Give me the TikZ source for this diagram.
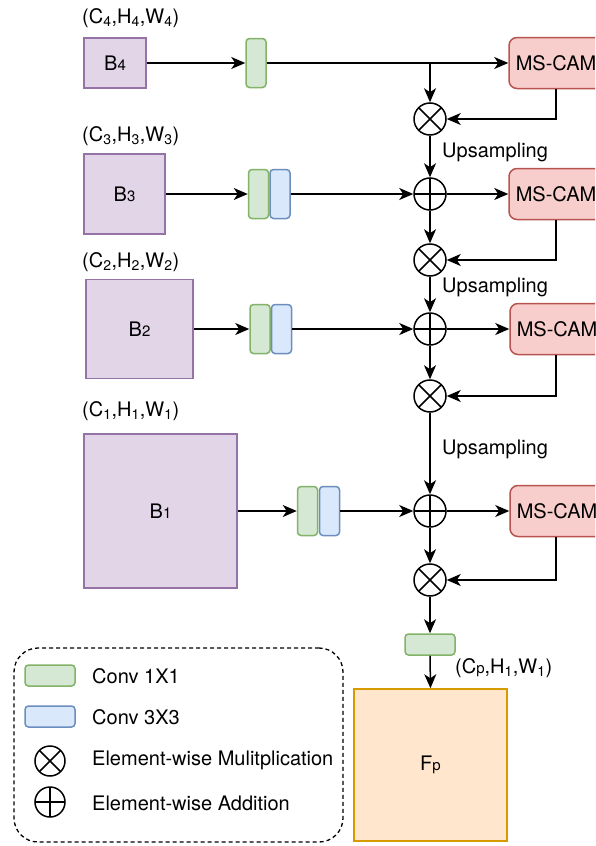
\documentclass[tikz,border=0pt]{standalone}
\usepackage{fontspec}
\setmainfont{TeX Gyre Heros}
\usetikzlibrary{arrows.meta}

\definecolor{purpleF}{HTML}{E1D5E7}\definecolor{purpleS}{HTML}{9673A6}
\definecolor{greenF}{HTML}{D5E8D4}\definecolor{greenS}{HTML}{82B366}
\definecolor{blueF}{HTML}{DAE8FC}\definecolor{blueS}{HTML}{6C8EBF}
\definecolor{redF}{HTML}{F8CECC}\definecolor{redS}{HTML}{B85450}
\definecolor{orangeF}{HTML}{FFE6CC}\definecolor{orangeS}{HTML}{D79B00}

\newcommand{\smallidx}[1]{{\fontsize{15}{18}\selectfont #1}}

\tikzset{
  every node/.style={font=\fontsize{20}{24}\selectfont, inner sep=0pt},
  arr/.style={line width=1.5pt, -{Stealth[length=14pt,width=12pt,inset=4pt]}},
  ln/.style={line width=1.5pt},
  blk/.style={draw=purpleS, fill=purpleF, line width=1.5pt},
  convone/.style={draw=greenS, fill=greenF, line width=1.5pt, rounded corners=3.5pt,
                  minimum width=20pt, minimum height=49pt},
  convthree/.style={draw=blueS, fill=blueF, line width=1.5pt, rounded corners=3.5pt,
                  minimum width=20pt, minimum height=49pt},
  cam/.style={draw=redS, fill=redF, line width=1.5pt, rounded corners=8pt,
              minimum width=94pt, minimum height=51pt},
  mulop/.style={circle, draw, line width=1.5pt, minimum size=32pt,
    path picture={\draw[line width=1.5pt]
      (path picture bounding box.north west) -- (path picture bounding box.south east)
      (path picture bounding box.north east) -- (path picture bounding box.south west);}},
  addop/.style={circle, draw, line width=1.5pt, minimum size=32pt,
    path picture={\draw[line width=1.5pt]
      (path picture bounding box.north) -- (path picture bounding box.south)
      (path picture bounding box.west) -- (path picture bounding box.east);}},
  dimlabel/.style={anchor=west},
}

\begin{document}
\begin{tikzpicture}[x=1pt,y=-1pt]
\clip (0,0) rectangle (595,846);
\fill[white] (0,0) rectangle (595,846);

% ---- level 4 ----
\node[blk, minimum width=62pt, minimum height=50pt] (B4) at (115,63) {B\smallidx{4}};
\node[dimlabel] (L4) at (82,18) {(C\textsubscript{4},H\textsubscript{4},W\textsubscript{4})};
\node[convone] (g4) at (256,63) {};
\node[cam] (cam1) at (556,63) {MS-CAM};
\node[mulop] (mul1) at (430,119) {};
\node[anchor=west] (up1) at (442,152) {Upsampling};

% ---- level 3 ----
\node[blk, minimum width=81pt, minimum height=80pt] (B3) at (124.5,194) {B\smallidx{3}};
\node[dimlabel] (L3) at (82,136) {(C\textsubscript{3},H\textsubscript{3},W\textsubscript{3})};
\node[convone] (g3) at (258.5,194) {};
\node[convthree] (b3) at (280,194) {};
\node[addop] (add2) at (430,194) {};
\node[cam] (cam2) at (556,194) {MS-CAM};
\node[mulop] (mul2) at (430,260) {};
\node[anchor=west] (up2) at (442,287) {Upsampling};

% ---- level 2 ----
\node[blk, minimum width=107pt, minimum height=99pt] (B2) at (139.5,329) {B\smallidx{2}};
\node[dimlabel] (L2) at (82,262) {(C\textsubscript{2},H\textsubscript{2},W\textsubscript{2})};
\node[convone] (g2) at (260,329) {};
\node[convthree] (b2) at (281.5,329) {};
\node[addop] (add3) at (430,329) {};
\node[cam] (cam3) at (557,329) {MS-CAM};
\node[mulop] (mul3) at (430,396) {};
\node[anchor=west] (up3) at (442,449) {Upsampling};

% ---- level 1 ----
\node[blk, minimum width=153pt, minimum height=154pt] (B1) at (160.5,511) {B\smallidx{1}};
\node[dimlabel] (L1) at (82,411) {(C\textsubscript{1},H\textsubscript{1},W\textsubscript{1})};
\node[convone] (g1) at (307.5,511) {};
\node[convthree] (b1) at (329.5,511) {};
\node[addop] (add4) at (430,511) {};
\node[cam] (cam4) at (557,511) {MS-CAM};
\node[mulop] (mul4) at (430,580) {};

% ---- output ----
\node[convone, minimum width=50pt, minimum height=21pt] (gout) at (430,644.5) {};
\node[draw=orangeS, fill=orangeF, line width=1.5pt, minimum width=153pt, minimum height=152pt]
  (Fp) at (430.5,765) {F\smallidx{p}};
\node[dimlabel] (Lp) at (455,668) {(C\smallidx{p},H\textsubscript{1},W\textsubscript{1})};

% ---- connectors ----
\draw[arr] (B4.east) -- (g4.west);
\draw[arr] (g4.east) -- (cam1.west);
\draw[arr] (mul1 |- g4.east) -- (mul1.north);
\draw[arr] (cam1.south) |- (mul1.east);
\draw[arr] (mul1.south) -- (add2.north);

\draw[arr] (B3.east) -- (g3.west);
\draw[arr] (b3.east) -- (add2.west);
\draw[arr] (add2.east) -- (cam2.west);
\draw[arr] (add2.south) -- (mul2.north);
\draw[arr] (cam2.south) |- (mul2.east);
\draw[arr] (mul2.south) -- (add3.north);

\draw[arr] (B2.east) -- (g2.west);
\draw[arr] (b2.east) -- (add3.west);
\draw[arr] (add3.east) -- (cam3.west);
\draw[arr] (add3.south) -- (mul3.north);
\draw[arr] (cam3.south -| cam2.south) |- (mul3.east);
\draw[arr] (mul3.south) -- (add4.north);

\draw[arr] (B1.east) -- (g1.west);
\draw[arr] (b1.east) -- (add4.west);
\draw[arr] (add4.east) -- (cam4.west);
\draw[arr] (add4.south) -- (mul4.north);
\draw[arr] (cam4.south -| cam2.south) |- (mul4.east);
\draw[arr] (mul4.south) -- (gout.north);
\draw[arr] (gout.south) -- (Fp.north);

% ---- legend ----
\node[draw, dashed, dash pattern=on 4pt off 3pt, line width=1.3pt, rounded corners=24pt,
      minimum width=329pt, minimum height=194pt] (legend) at (178.5,745) {};
\node[convone, minimum width=50pt, minimum height=21pt] (lg1) at (50,675.5) {};
\node[anchor=west] (lt1) at (92,676) {Conv 1X1};
\node[convthree, minimum width=50pt, minimum height=21pt] (lg3) at (50,716.5) {};
\node[anchor=west] (lt3) at (92,717) {Conv 3X3};
\node[mulop, minimum size=30pt] (lmul) at (50,761) {};
\node[anchor=west] (ltm) at (92,760) {Element-wise Mulitplication};
\node[addop, minimum size=30pt] (ladd) at (50,802) {};
\node[anchor=west] (lta) at (92,803) {Element-wise Addition};
\end{tikzpicture}
\end{document}
